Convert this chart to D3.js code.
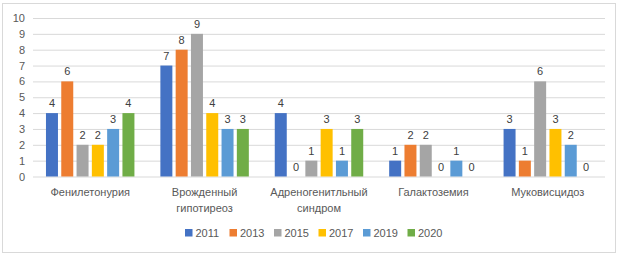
<!DOCTYPE html>
<html>
<head>
<meta charset="utf-8">
<script src="https://cdn.jsdelivr.net/npm/d3@7"></script>
<style>
  body { margin: 0; background: #fff; }
  svg { font-family: "Liberation Sans", Arial, sans-serif; }
  .grid line { stroke: #d9d9d9; }
  .tick text { fill: #595959; font-size: 11px; }
  .val { fill: #404040; font-size: 11px; text-anchor: middle; }
  .cat { fill: #595959; font-size: 11px; text-anchor: middle; }
  .leg { fill: #595959; font-size: 11px; }
</style>
</head>
<body>
<svg width="623" height="257"></svg>
<script>
// **** data ****
const categories = ['Фенилетонурия', 'Врожденный гипотиреоз', 'Адреногенитльный синдром', 'Галактоземия', 'Муковисцидоз'];
const years = ['2011', '2013', '2015', '2017', '2019', '2020'];
const colors = ['#4472C4', '#ED7D31', '#A5A5A5', '#FFC000', '#5B9BD5', '#70AD47'];
const v2011 = [4, 7, 4, 1, 3];
const v2013 = [6, 8, 0, 2, 1];
const v2015 = [2, 9, 1, 2, 6];
const v2017 = [2, 4, 3, 0, 3];
const v2019 = [3, 3, 1, 1, 2];
const v2020 = [4, 3, 3, 0, 0];
const yTicks = [0, 1, 2, 3, 4, 5, 6, 7, 8, 9, 10];

const series = [v2011, v2013, v2015, v2017, v2019, v2020];

// **** scales ****
var svg = d3.select('svg');

svg.append('rect')
    .attr('x', 2.5).attr('y', 3.5)
    .attr('width', 613).attr('height', 249)
    .style('fill', 'none')
    .style('stroke', '#d9d9d9');

var catScale = d3.scaleBand()
    .domain(categories).range([33, 605]);

var yearScale = d3.scaleBand()
    .domain(years).range([0, catScale.bandwidth()])
    .paddingInner(0.216).paddingOuter(0.848);

var yScale = d3.scaleLinear()
    .domain([0, 10]).range([176.5, 18]);

// gridlines
svg.append('g').attr('class', 'grid')
    .attr('transform', 'translate(33,0)')
    .call(d3.axisLeft(yScale).tickValues(yTicks).tickSize(-572).tickFormat(''))
    .call(g => g.select('.domain').remove());

// y labels
svg.append('g')
    .attr('transform', 'translate(25,0)')
    .call(d3.axisLeft(yScale).tickValues(yTicks).tickSize(0).tickPadding(0))
    .call(g => g.select('.domain').remove());

// bars
categories.forEach((cat, ci) => {
    const gTag = svg.append('g')
        .attr('transform', `translate(${catScale(cat)},0)`);

    series.forEach((vals, si) => {
        const v = vals[ci];
        gTag.append('rect')
            .attr('x', yearScale(years[si]))
            .attr('y', yScale(v))
            .attr('width', yearScale.bandwidth())
            .attr('height', yScale(0) - yScale(v))
            .style('fill', colors[si]);

        gTag.append('text')
            .attr('class', 'val')
            .attr('x', yearScale(years[si]) + yearScale.bandwidth() / 2)
            .attr('y', yScale(v) - 6)
            .text(v);
    });

    // category label, wrapped onto words
    const words = cat.split(' ');
    words.forEach((w, wi) => {
        svg.append('text')
            .attr('class', 'cat')
            .attr('x', catScale(cat) + catScale.bandwidth() / 2)
            .attr('y', 196 + wi * 15.5)
            .text(w);
    });
});

// legend
const legendX = d3.scaleBand().domain(years).range([185, 452]);
years.forEach((yr, i) => {
    const lg = svg.append('g')
        .attr('transform', `translate(${legendX(yr)}, 233)`);
    lg.append('rect')
        .attr('x', 0).attr('y', -4)
        .attr('width', 7.5).attr('height', 7.5)
        .style('fill', colors[i]);
    lg.append('text')
        .attr('class', 'leg')
        .attr('x', 10.5).attr('y', 4)
        .text(yr);
});
</script>
</body>
</html>
